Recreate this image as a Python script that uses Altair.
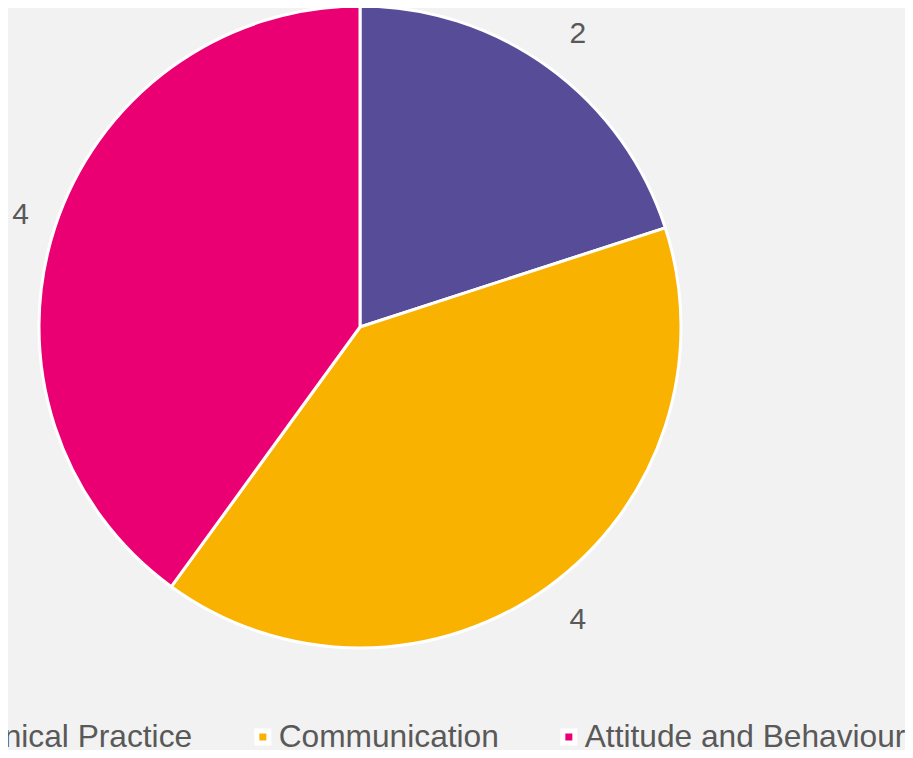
import altair as alt
import pandas as pd

categories = ["Clinical Practice", "Communication", "Attitude and Behaviour"]
values = [2, 4, 4]
colors = ["#574C97", "#F9B200", "#EB0073"]

df = pd.DataFrame({"category": categories, "value": values, "idx": list(range(len(categories)))})

color_enc = alt.Color(
    "category:N",
    scale=alt.Scale(domain=categories, range=colors),
    sort=categories,
    legend=alt.Legend(
        orient="none",
        direction="horizontal",
        legendX=-73,
        legendY=713,
        title=None,
        symbolType="square",
        symbolSize=144,
        symbolStrokeColor="white",
        symbolStrokeWidth=5,
        symbolOpacity=1,
        labelFont="Liberation Sans",
        labelFontSize=31.7,
        labelColor="#595959",
        labelLimit=500,
        labelOffset=0,
        columnPadding=53,
    ),
)

base = alt.Chart(df).encode(
    theta=alt.Theta("value:Q", stack=True),
    order=alt.Order("idx:Q"),
)

pie = base.mark_arc(outerRadius=321, stroke="white", strokeWidth=3).encode(color=color_enc)

labels = base.mark_text(
    radius=362, dx=5, font="Liberation Sans", fontSize=30, color="#595959"
).encode(text="value:Q")

chart = (
    (pie + labels)
    .properties(
        width=704,
        height=638,
        autosize=alt.AutoSizeParams(type="none"),
        padding={"left": 0, "top": 0, "right": 193, "bottom": 104},
        background="#F2F2F2",
    )
    .configure_view(stroke=None)
)

chart.save("out.html", embed_options={"renderer": "svg", "actions": False})
